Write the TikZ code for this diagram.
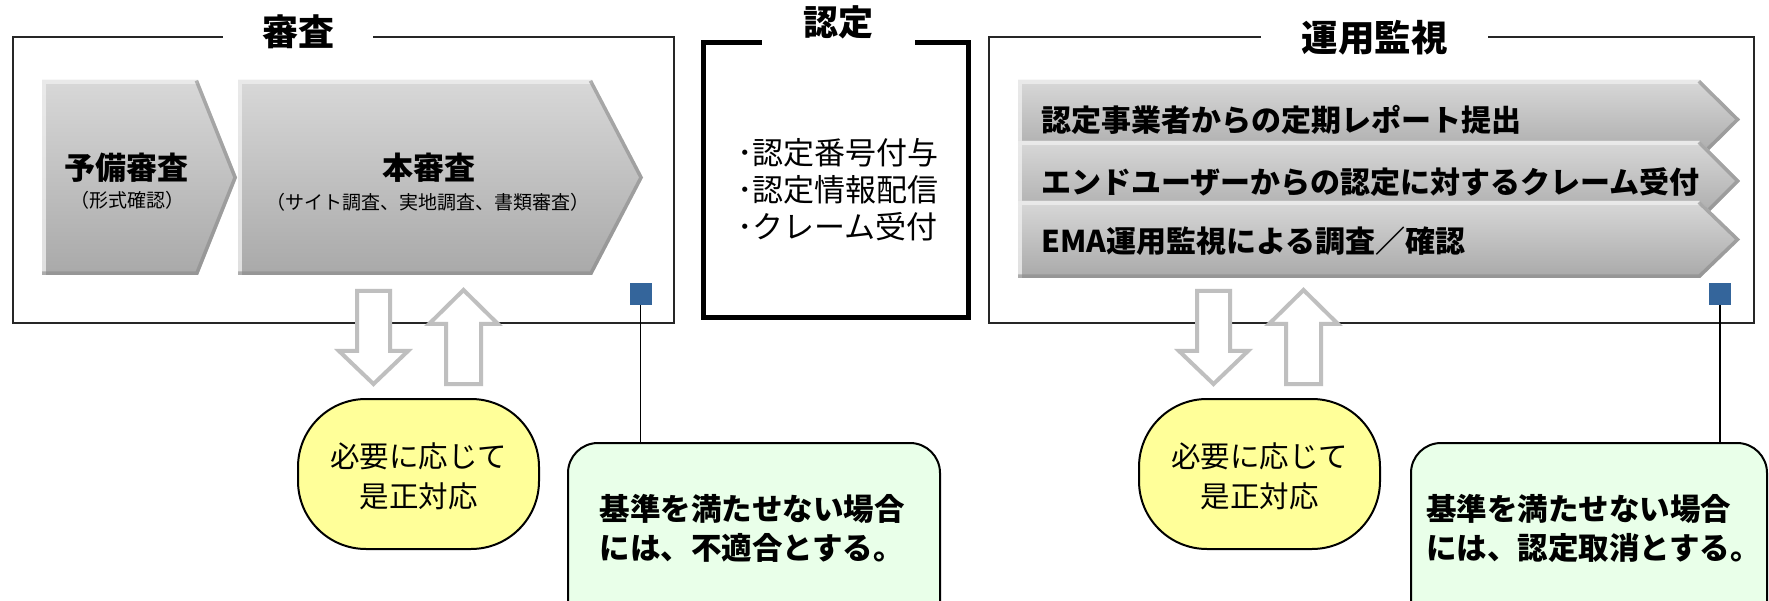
\documentclass[tikz,border=0pt]{standalone}
\usepackage{fontspec}
\setmainfont{Noto Sans CJK JP}
\usetikzlibrary{calc}
\definecolor{chtop}{HTML}{D8D8D8}
\definecolor{chbot}{HTML}{A9A9A9}
\definecolor{chlight}{HTML}{EEEEEE}
\definecolor{chdark}{HTML}{8A8A8A}
\definecolor{arrgray}{HTML}{BFBFBF}
\definecolor{sqblue}{HTML}{34659B}
\definecolor{yelfill}{HTML}{FFFF99}
\definecolor{grnfill}{HTML}{E9FFE9}
\newcommand{\chevshape}[6]{%
  \begin{scope}
    \clip (#1,#2) -- (#3,#2) -- (#4,#6) -- (#3,#5) -- (#1,#5) -- cycle;
    \shade[top color=chtop, bottom color=chbot] (#1,#2) rectangle (#4,#5);
    \draw[line width=8, chlight, opacity=0.8] (#1,#5) -- (#1,#2) -- (#3,#2);
    \draw[line width=7, chdark, opacity=0.6] (#3,#2) -- (#4,#6) -- (#3,#5) -- (#1,#5);
  \end{scope}}
\newcommand{\hollowdown}[1]{%
  \draw[hollow] ({#1-16.5},291) -- ({#1+16.5},291) -- ({#1+16.5},351) -- ({#1+34.5},351)
    -- (#1,384) -- ({#1-34.5},351) -- ({#1-16.5},351) -- cycle;}
\newcommand{\hollowup}[1]{%
  \draw[hollow] (#1,290) -- ({#1+34.5},324) -- ({#1+17.5},324) -- ({#1+17.5},384)
    -- ({#1-17.5},384) -- ({#1-17.5},324) -- ({#1-34.5},324) -- cycle;}
\begin{document}
\begin{tikzpicture}[x=1pt,y=-1pt,
  titletxt/.style={font=\fontsize{36}{40}\selectfont\bfseries, inner sep=0},
  chmain/.style={font=\fontsize{31}{36}\selectfont\bfseries, inner sep=0},
  chsub/.style={font=\fontsize{19}{22}\selectfont, inner sep=0},
  rowtxt/.style={font=\fontsize{30}{36}\selectfont\bfseries, inner sep=0, anchor=west},
  frameline/.style={draw=black!85, line width=2},
  certframe/.style={draw=black, line width=5},
  hollow/.style={draw=arrgray, line width=4, fill=white, line join=miter},
  bluesq/.style={fill=sqblue, minimum size=22, inner sep=0},
  yel/.style={draw=black, line width=2, fill=yelfill, rounded corners=68,
    minimum width=241, minimum height=150, inner sep=0},
  grn/.style={draw=black, line width=2, fill=grnfill, rounded corners=30,
    minimum height=200, inner sep=0},
  yeltxt/.style={font=\fontsize{29.5}{40}\selectfont, align=center, inner sep=0},
  grntxt/.style={font=\fontsize{30.5}{39}\selectfont\bfseries, align=left, inner sep=0},
  bullettxt/.style={font=\fontsize{31}{37}\selectfont, align=left, inner sep=0, anchor=west},
  link/.style={draw=black, line width=1.5}]
\useasboundingbox (0,0) rectangle (1769,601);
\fill[white] (0,0) rectangle (1769,601);

% frames
\draw[frameline] (373,37) -| (674,323) -| (13,37) -- (223,37);
\draw[certframe] (915,43) -| (968,318) -| (703,43) -- (762,43);
\draw[frameline] (1488,37) -| (1754,323) -| (989,37) -- (1261,37);

% titles
\node[titletxt] (t1) at (298,32) {審査};
\node[titletxt, font=\fontsize{35}{40}\selectfont\bfseries] (t2) at (838,22) {認定};
\node[titletxt, font=\fontsize{36.5}{40}\selectfont\bfseries] (t3) at (1374.5,38) {運用監視};

% left chevrons
\chevshape{42}{80}{198}{237}{275}{177.5}
\chevshape{238}{80}{592}{643}{275}{177.5}
\node[chmain] (c1) at (126,168) {予備審査};
\node[chsub] (c1s) at (127,200) {（形式確認）};
\node[chmain] (c2) at (429,168) {本審査};
\node[chsub] (c2s) at (427.5,202) {（サイト調査、実地調査、書類審査）};

% certification bullets
\node[bullettxt] (b1) at (737,190) {･認定番号付与\\･認定情報配信\\･クレーム受付};

% right chevrons
\chevshape{1018}{80}{1700}{1740}{159}{119.5}
\chevshape{1018}{141}{1700}{1740}{221}{181}
\chevshape{1018}{201}{1700}{1740}{278}{239.5}
\node[rowtxt] (r1) at (1041,120) {認定事業者からの定期レポート提出};
\node[rowtxt] (r2) at (1041,182) {エンドユーザーからの認定に対するクレーム受付};
\node[rowtxt] (r3) at (1041,241) {EMA運用監視による調査／確認};

% hollow arrows
\hollowdown{373.5}
\hollowup{463.5}
\hollowdown{1213.5}
\hollowup{1303.5}

% squares
\node[bluesq] (s1) at (640.5,294) {};
\node[bluesq] (s2) at (1720,294) {};

% yellow
\node[yel] (y1) at (418.5,474) {};
\node[yeltxt] (y1t) at (418.5,476) {必要に応じて\\是正対応};
\node[yel] (y2) at (1259.5,474) {};
\node[yeltxt] (y2t) at (1259.5,476) {必要に応じて\\是正対応};

% green
\node[grn, minimum width=372] (g1) at (754,543) {};
\node[grntxt] (g1t) at (752,528.5) {基準を満たせない場合\\には、不適合とする。};
\node[grn, minimum width=356] (g2) at (1589,543) {};
\node[grntxt] (g2t) at (1593.5,528.5) {基準を満たせない場合\\には、認定取消とする。};

% connectors
\draw[link] (s1.south) -- (s1.south |- g1.north);
\draw[link] (s2.south) -- (s2.south |- g2.north);
\end{tikzpicture}
\end{document}
